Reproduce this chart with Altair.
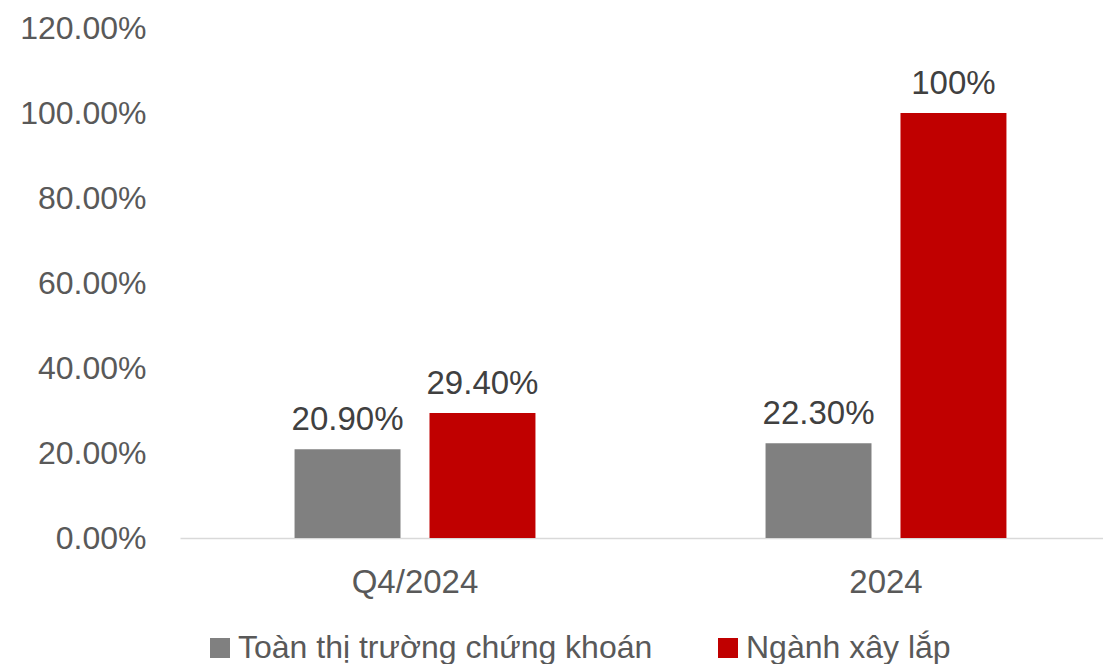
import altair as alt
import pandas as pd

periods = ["Q4/2024", "2024"]
series = ["Toàn thị trường chứng khoán", "Ngành xây lắp"]
market = [0.209, 0.223]
construction = [0.294, 1.0]
market_labels = ["20.90%", "22.30%"]
construction_labels = ["29.40%", "100%"]
y_ticks = [0, 0.2, 0.4, 0.6, 0.8, 1.0, 1.2]
colors = ["#808080", "#C00000"]

rows = []
for i, p in enumerate(periods):
    rows.append({"period": p, "series": series[0], "value": market[i], "label": market_labels[i]})
    rows.append({"period": p, "series": series[1], "value": construction[i], "label": construction_labels[i]})
df = pd.DataFrame(rows)

FONT = "Liberation Sans"

x_enc = alt.X(
    "period:N", sort=periods, title=None,
    scale=alt.Scale(paddingInner=0.1, paddingOuter=0.02985, align=0.82),
    axis=alt.Axis(labelAngle=0, ticks=False, labelPadding=28, labelFontSize=33,
                  labelColor="#595959", labelFont=FONT, domainColor="#D9D9D9", domainWidth=1.5),
)
xo_enc = alt.XOffset("series:N", sort=series,
                     scale=alt.Scale(paddingInner=0.2148, paddingOuter=0.678))
y_enc = alt.Y(
    "value:Q", title=None,
    scale=alt.Scale(domain=[0, 1.2], nice=False),
    axis=alt.Axis(values=y_ticks, format=".2%", grid=False, domain=False, ticks=False,
                  labelPadding=34, labelFontSize=32, labelColor="#595959", labelFont=FONT),
)

base = alt.Chart(df).encode(x=x_enc, xOffset=xo_enc, y=y_enc)

bars = base.mark_bar().encode(
    color=alt.Color(
        "series:N", sort=series, title=None,
        scale=alt.Scale(domain=series, range=colors),
        legend=alt.Legend(orient="none", legendX=24, legendY=604, direction="horizontal",
                          symbolType="square", symbolSize=400, symbolStrokeWidth=0,
                          labelFontSize=32, labelColor="#595959", labelFont=FONT,
                          columnPadding=59, labelOffset=2, labelLimit=600),
    )
)

text = base.mark_text(baseline="bottom", dy=-12, fontSize=33, font=FONT, color="#404040").encode(
    text="label:N"
)

chart = alt.layer(bars, text).properties(
    width=923, height=510,
    padding={"left": 172, "top": 20, "right": 0, "bottom": 126},
    autosize=alt.AutoSizeParams(type="none"),
).configure_view(stroke=None)

chart.save("out.html", embed_options={"renderer": "svg", "actions": False})
